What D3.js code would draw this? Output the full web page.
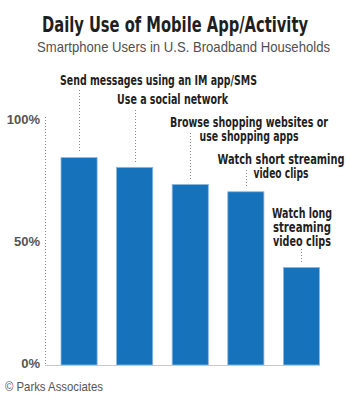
<!DOCTYPE html>
<html>
<head>
<meta charset="utf-8">
<script src="https://cdn.jsdelivr.net/npm/d3@7"></script>
<style>
  html, body { margin: 0; padding: 0; background: #fff; }
  svg { display: block; }
</style>
</head>
<body>
<svg id="chart" width="350" height="400"></svg>
<script>
// Activities and share of smartphone users doing each daily (%)
const activities = [
  "Send messages using an IM app/SMS",
  "Use a social network",
  "Browse shopping websites or use shopping apps",
  "Watch short streaming video clips",
  "Watch long streaming video clips"
];
const dailyShare = [85, 81, 74, 71, 40];
const tickValues = [0, 50, 100];
const tickLabels = ["0%", "50%", "100%"];

// Wrapped label lines for each activity
const labelLines = [
  ["Send messages using an IM app/SMS"],
  ["Use a social network"],
  ["Browse shopping websites or", "use shopping apps"],
  ["Watch short streaming", "video clips"],
  ["Watch long", "streaming", "video clips"]
];

// Label layout: text centre x, first baseline y, rendered line widths, leader top y
const labelLayout = [
  { cx: 158.5, y: 85,  widths: [197],          leaderTop: 90 },
  { cx: 172.5, y: 104, widths: [111],          leaderTop: 110 },
  { cx: 249,   y: 127, widths: [158, 99],      leaderTop: 133 },
  { cx: 281,   y: 164, widths: [127, 55],      leaderTop: 170 },
  { cx: 302,   y: 218, widths: [60, 58, 58],   leaderTop: 249 }
];

const svg = d3.select("#chart");
const blue = "#1673bb";
const labelFont = "'Liberation Sans Narrow', 'DejaVu Sans Condensed', 'Liberation Sans', sans-serif";

const x = d3.scaleBand()
  .domain(activities)
  .range([61, 319.5])
  .paddingInner(0.35)
  .paddingOuter(0);

const y = d3.scaleLinear()
  .domain([0, 100])
  .range([365, 121]);

// Title and subtitle
svg.append("text")
  .attr("x", 175).attr("y", 32)
  .attr("text-anchor", "middle")
  .attr("textLength", 266).attr("lengthAdjust", "spacingAndGlyphs")
  .style("font-family", labelFont)
  .style("font-weight", "bold")
  .style("font-size", "22px")
  .style("fill", "#1f1f1f")
  .text("Daily Use of Mobile App/Activity");

svg.append("text")
  .attr("x", 183.5).attr("y", 52)
  .attr("text-anchor", "middle")
  .attr("textLength", 293).attr("lengthAdjust", "spacingAndGlyphs")
  .style("font-family", "'Liberation Sans', Arial, sans-serif")
  .style("font-size", "15px")
  .style("fill", "#505050")
  .text("Smartphone Users in U.S. Broadband Households");

// Dotted vertical axis
svg.append("line")
  .attr("x1", 45.5).attr("x2", 45.5)
  .attr("y1", y(100) - 4).attr("y2", y(0))
  .attr("stroke", "#888")
  .attr("stroke-width", 1)
  .attr("stroke-dasharray", "1,2");

// Y tick labels
const yAxis = d3.axisLeft(y)
  .tickValues(tickValues)
  .tickFormat((d, i) => tickLabels[i])
  .tickSize(0)
  .tickPadding(0);

const gy = svg.append("g")
  .attr("transform", "translate(40,-2)")
  .call(yAxis);
gy.select(".domain").remove();
gy.selectAll("text")
  .style("font-family", "'Liberation Sans', Arial, sans-serif")
  .style("font-weight", "bold")
  .style("font-size", "13px")
  .style("fill", "#555");

// Bars
svg.append("g")
  .selectAll("rect")
  .data(dailyShare)
  .join("rect")
  .attr("x", (d, i) => x(activities[i]))
  .attr("y", d => y(d))
  .attr("width", x.bandwidth())
  .attr("height", d => y(0) - y(d))
  .attr("fill", blue)
  .attr("stroke", "#8db8e0")
  .attr("stroke-width", 0.8);

// Baseline
svg.append("line")
  .attr("x1", 45).attr("x2", 320)
  .attr("y1", y(0) + 0.5).attr("y2", y(0) + 0.5)
  .attr("stroke", "#c8c8c8")
  .attr("stroke-width", 1);

// Leader lines from labels down to bars
svg.append("g")
  .selectAll("line")
  .data(dailyShare)
  .join("line")
  .attr("x1", (d, i) => Math.round(x(activities[i]) + x.bandwidth() / 2) + 0.5)
  .attr("x2", (d, i) => Math.round(x(activities[i]) + x.bandwidth() / 2) + 0.5)
  .attr("y1", (d, i) => labelLayout[i].leaderTop)
  .attr("y2", d => y(d) - 5)
  .attr("stroke", "#888")
  .attr("stroke-width", 1)
  .attr("stroke-dasharray", "1,2");

// Category labels
const labels = svg.append("g")
  .selectAll("text")
  .data(activities)
  .join("text")
  .attr("text-anchor", "middle")
  .style("font-family", labelFont)
  .style("font-weight", "bold")
  .style("font-size", "13.5px")
  .style("fill", "#1f1f1f");

labels.each(function (d, i) {
  const lay = labelLayout[i];
  d3.select(this).selectAll("tspan")
    .data(labelLines[i])
    .join("tspan")
    .attr("x", lay.cx)
    .attr("y", (t, j) => lay.y + j * 14)
    .attr("textLength", (t, j) => lay.widths[j])
    .attr("lengthAdjust", "spacingAndGlyphs")
    .text(t => t);
});

// Source credit
svg.append("text")
  .attr("x", 5).attr("y", 391)
  .attr("textLength", 98).attr("lengthAdjust", "spacingAndGlyphs")
  .style("font-family", "'Liberation Sans', Arial, sans-serif")
  .style("font-size", "13px")
  .style("fill", "#555")
  .text("© Parks Associates");
</script>
</body>
</html>
